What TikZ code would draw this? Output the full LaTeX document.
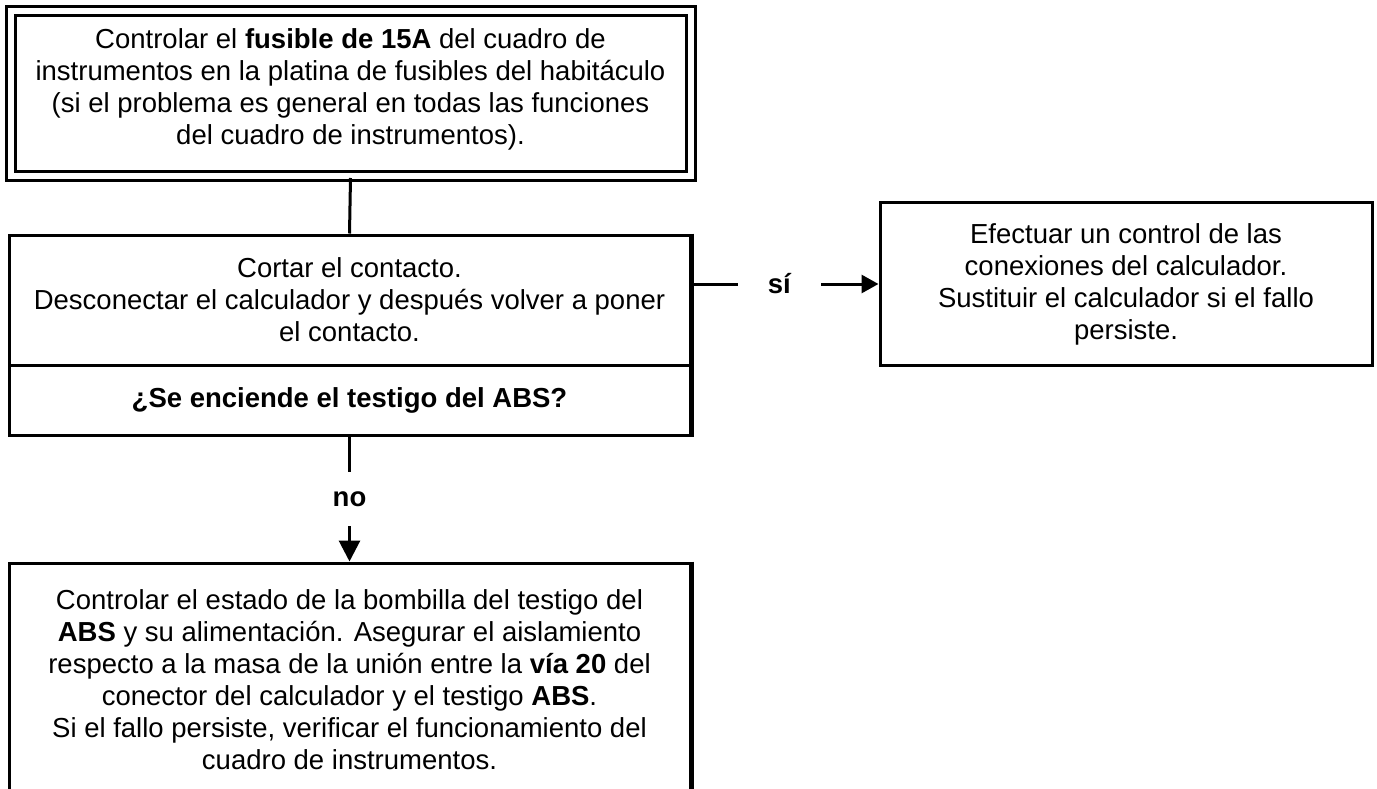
\documentclass[tikz,border=0pt]{standalone}
\usepackage{fontspec}
\setmainfont{Liberation Sans}
\usetikzlibrary{arrows.meta}

\begin{document}
\begin{tikzpicture}[x=1pt,y=-1pt,font=\fontsize{27.5}{32}\selectfont,
  box/.style={draw,line width=3pt,align=center,inner sep=0pt},
  lbl/.style={fill=white,font=\fontsize{27.5}{32}\selectfont\bfseries,inner xsep=30pt,inner ysep=19pt},
  tip/.style={line width=3pt,-{Triangle[length=17pt,width=18pt]}}]
\useasboundingbox (0,0) rectangle (1377,789);
% boxes
\node[box,double,double distance=6pt,minimum width=680pt,minimum height=165pt,text depth=14pt] (fuse) at (350.5,94) {Controlar el \textbf{fusible de 15A} del cuadro de\\ instrumentos en la platina de fusibles del habitáculo\\ (si el problema es general en todas las funciones\\ del cuadro de instrumentos).};
\node[box,minimum width=681pt,minimum height=130pt] (cut) at (349.5,300) {Cortar el contacto.\\ Desconectar el calculador y después volver a poner\\ el contacto.};
\node[box,minimum width=681pt,minimum height=70pt] (ask) at (349.5,400) {\textbf{¿Se enciende el testigo del ABS?}};
\node[box,minimum width=492pt,minimum height=162pt] (ecu) at (1126,284) {Efectuar un control de las\\ conexiones del calculador.\\ Sustituir el calculador si el fallo\\ persiste.};
\node[box,minimum width=681pt,minimum height=234pt] (lamp) at (349.5,680) {Controlar el estado de la bombilla del testigo del\\ \textbf{ABS} y su alimentación. Asegurar el aislamiento\\ respecto a la masa de la unión entre la \textbf{vía 20} del\\ conector del calculador y el testigo \textbf{ABS}.\\ Si el fallo persiste, verificar el funcionamiento del\\ cuadro de instrumentos.};
\foreach \n in {cut,ask,lamp} { \draw[line width=5pt] (\n.north east) -- (\n.south east); };
% connectors
\draw[line width=3pt] (fuse.south) -- (cut.north);
\draw[tip] (ecu.west -| cut.east) -- node[lbl,pos=0.47] {sí} (ecu.west);
\draw[tip,-{Triangle[length=21pt,width=21pt]}] (ask.south) -- node[lbl] {no} (lamp.north);
\end{tikzpicture}
\end{document}
